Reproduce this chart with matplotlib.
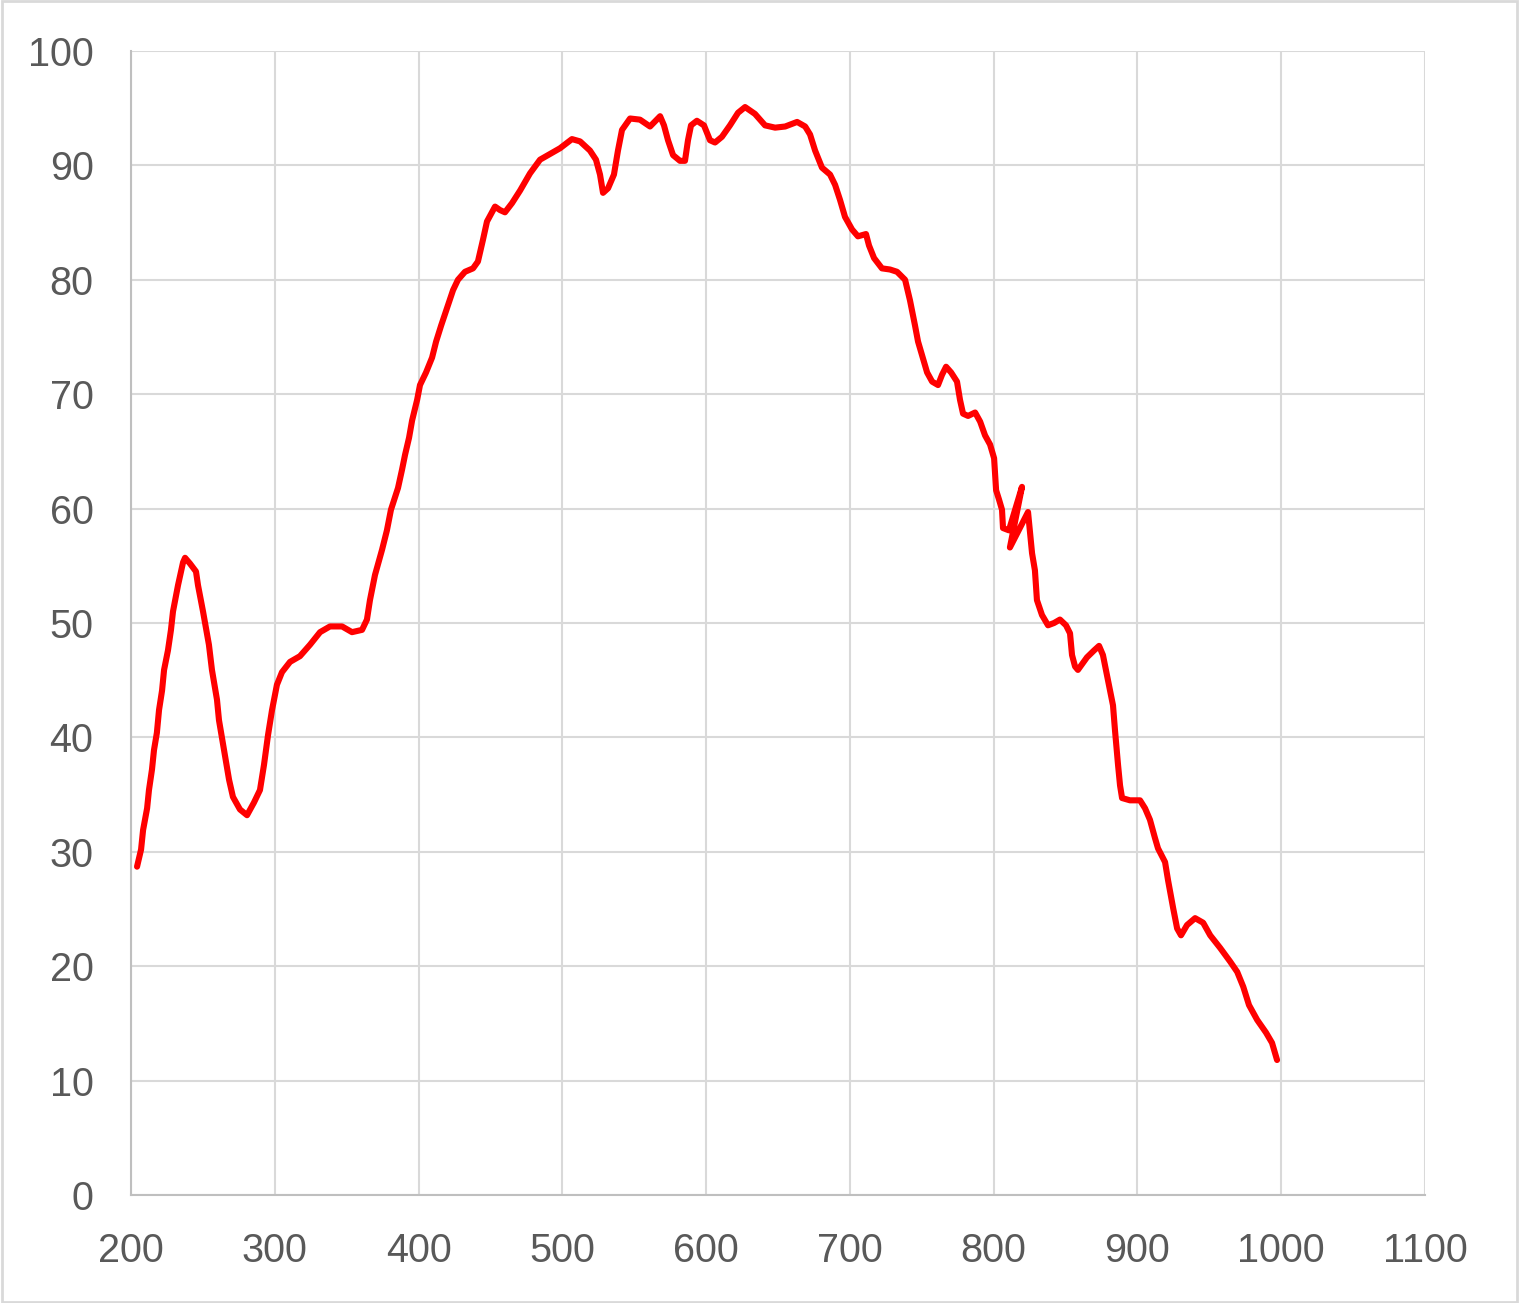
import matplotlib.pyplot as plt
from matplotlib.patches import Rectangle

# wavelength (nm) and response (%)
wavelength = [204.2, 207, 208.4, 211.2, 212.5, 214.6, 216, 218, 219.5, 221.6,
              223, 225.7, 227.8, 229.2, 232.7, 236.2, 237.6, 241, 245.2, 246.6,
              250.1, 254.2, 256.3, 259.8, 261.2, 264.7, 268.2, 270.9, 275.8, 280.7,
              285.5, 289.7, 292.5, 295.3, 298.1, 301.5, 305, 310.6, 317.5, 324.5,
              331.5, 338.4, 346.8, 353.7, 360.7, 364.1, 366.2, 369.7, 374.6, 378,
              380.8, 385.7, 388.5, 390.6, 393.4, 395.5, 399, 401, 405.2, 409.4,
              412.2, 415.7, 420.5, 424, 427.4, 432.3, 437.9, 441.3, 444.8, 447.6,
              453.2, 456.6, 460.1, 465, 470.6, 477.5, 484.5, 491.5, 498.4, 506.7,
              512.3, 519.2, 523.4, 526.2, 528.3, 531.8, 535.9, 538.7, 541.5, 547.1,
              554, 561, 568, 570.7, 573.5, 577, 581.8, 585.3, 587.4, 589.5,
              593.6, 598.5, 602.7, 606.2, 611, 616.6, 622.2, 627.1, 634, 641,
              648, 655, 663.3, 668.9, 672.3, 675.8, 680.6, 686.2, 689.7, 693.1,
              696.6, 701.5, 705.6, 711.2, 713.3, 716.8, 722.3, 727.9, 732.8, 738.4,
              741.8, 745.3, 747.4, 750.2, 753.7, 757.2, 761.3, 764.1, 766.9, 770.4,
              774.5, 776.6, 778.7, 782.2, 787.1, 790.6, 794, 797.5, 800.3, 801.7,
              803.7, 805.8, 806.5, 810.6, 819.7, 811.3, 823.9, 826.7, 828.7, 830.1,
              833.6, 837.8, 842, 846.1, 850.3, 853.1, 854.5, 856.6, 858.6, 864.9,
              869.8, 873.3, 876, 879.5, 883, 884.4, 886.5, 887.9, 889.3, 894.8,
              901.8, 905.3, 908.7, 912.2, 914.3, 919.2, 921.3, 924.8, 927.6, 930.3,
              934.5, 940.1, 945.7, 950.6, 957.5, 964.5, 969.4, 973.6, 977.6, 983.3,
              989.4, 993.6, 997.1]
response = [28.7, 30.2, 31.9, 33.8, 35.4, 37.2, 38.9, 40.4, 42.4, 44.1,
            45.9, 47.6, 49.4, 51, 53.3, 55.3, 55.7, 55.2, 54.5, 53.3,
            51, 48.1, 45.9, 43.3, 41.5, 38.9, 36.3, 34.8, 33.7, 33.2,
            34.3, 35.4, 37.6, 40.2, 42.4, 44.6, 45.7, 46.6, 47.1, 48.1,
            49.2, 49.7, 49.7, 49.2, 49.4, 50.3, 52, 54.2, 56.4, 58.1,
            59.9, 61.8, 63.4, 64.7, 66.2, 67.7, 69.5, 70.8, 71.9, 73.2,
            74.6, 76, 77.8, 79.1, 80, 80.7, 81, 81.6, 83.5, 85.1,
            86.4, 86.1, 85.9, 86.7, 87.8, 89.3, 90.5, 91, 91.5, 92.3,
            92.1, 91.3, 90.5, 89.2, 87.6, 88, 89.2, 91.3, 93.1, 94.1,
            94, 93.4, 94.3, 93.5, 92.2, 90.9, 90.4, 90.4, 92.2, 93.5,
            93.9, 93.5, 92.2, 92, 92.5, 93.5, 94.6, 95.1, 94.5, 93.5,
            93.3, 93.4, 93.8, 93.4, 92.7, 91.3, 89.8, 89.2, 88.3, 87,
            85.5, 84.4, 83.8, 84, 83, 81.9, 81, 80.9, 80.7, 80,
            78.2, 76, 74.6, 73.4, 71.9, 71.1, 70.8, 71.7, 72.4, 71.9,
            71.1, 69.5, 68.3, 68.1, 68.4, 67.6, 66.4, 65.6, 64.4, 61.6,
            60.8, 59.9, 58.3, 58.1, 61.9, 56.6, 59.7, 56.1, 54.6, 52,
            50.7, 49.8, 50, 50.3, 49.8, 49.1, 47.2, 46.2, 45.9, 47,
            47.6, 48, 47.2, 45, 42.8, 40.6, 37.6, 35.8, 34.7, 34.5,
            34.5, 33.8, 32.8, 31.2, 30.3, 29.1, 27.5, 25.1, 23.3, 22.7,
            23.6, 24.2, 23.8, 22.7, 21.6, 20.4, 19.5, 18.2, 16.6, 15.3,
            14.2, 13.3, 11.8]

x_ticks = [200, 300, 400, 500, 600, 700, 800, 900, 1000, 1100]
y_ticks = [0, 10, 20, 30, 40, 50, 60, 70, 80, 90, 100]

plt.rcParams['font.family'] = ['Liberation Sans', 'DejaVu Sans']

fig = plt.figure(figsize=(15.19, 13.03), dpi=100)
ax = fig.add_axes([131/1519, 1 - 1195/1303, (1425-131)/1519, (1195-51)/1303])

ax.plot(wavelength, response, color='#FF0000', lw=4.4,
        solid_joinstyle='round', solid_capstyle='round', zorder=3)

ax.set_xlim(200, 1100)
ax.set_ylim(0, 100)
ax.set_xticks(x_ticks)
ax.set_yticks(y_ticks)
ax.grid(True, color='#D9D9D9', lw=1.5)
ax.set_axisbelow(True)
for side in ['top', 'right']:
    ax.spines[side].set_visible(False)
for side in ['left', 'bottom']:
    ax.spines[side].set_color('#BFBFBF')
    ax.spines[side].set_linewidth(1.5)
ax.tick_params(axis='both', length=0, labelsize=28.5, colors='#595959')
ax.tick_params(axis='y', pad=27)
ax.tick_params(axis='x', pad=27)

# light frame round the whole chart
fig.patches.append(Rectangle((0.001, 0.001), 0.998, 0.998, transform=fig.transFigure,
                             fill=False, edgecolor='#D9D9D9', lw=2))

fig.savefig('out.png', dpi=100)
